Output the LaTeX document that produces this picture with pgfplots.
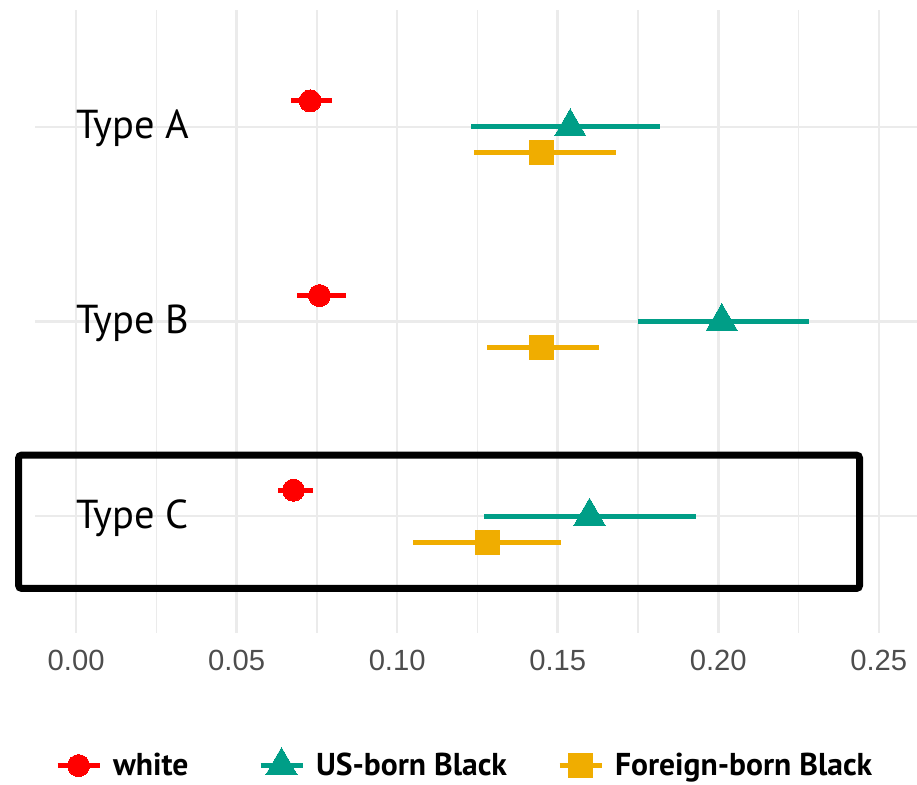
\documentclass[border=0pt]{standalone}
\usepackage{pgfplots}
\pgfplotsset{compat=1.18}
\usepackage{pgfplotstable}
\usepackage{fontspec}
\setmainfont{PT Sans}
\newfontfamily\lib{Liberation Sans}
\definecolor{cwhite}{HTML}{FF0000}
\definecolor{cus}{HTML}{009E87}
\definecolor{cfor}{HTML}{F0AD00}
\definecolor{gridc}{HTML}{EBEBEB}
\definecolor{tickc}{HTML}{4D4D4D}

\pgfplotstableread{
x y em ep
0.0729 3.1333 0.0060 0.0069
0.0758 2.1333 0.0070 0.0082
0.0677 1.1333 0.0049 0.0062
}\whitetab
\pgfplotstableread{
x y em ep
0.1539 3 0.0309 0.0280
0.2011 2 0.0261 0.0271
0.1599 1 0.0329 0.0331
}\ustab
\pgfplotstableread{
x y em ep
0.1451 2.8667 0.0212 0.0229
0.1451 1.8667 0.0172 0.0179
0.1280 0.8667 0.0231 0.0230
}\fortab

\begin{document}
\begin{tikzpicture}
\useasboundingbox (-17.5pt,-75.5pt) rectangle (441pt,316.5pt);
\begin{axis}[
  at={(0pt,0pt)}, anchor=south west,
  scale only axis, width=441pt, height=311.5pt,
  xmin=-0.0128, xmax=0.2619, ymin=0.4, ymax=3.6,
  clip=false,
  xtick={0,0.05,0.10,0.15,0.20,0.25},
  minor xtick={0.025,0.075,0.125,0.175,0.225},
  ytick={1,2,3}, yticklabels={},
  grid=both,
  major grid style={line width=1.25pt, gridc},
  minor grid style={line width=0.6pt, gridc},
  axis line style={draw=none},
  major tick length=0pt, minor tick length=0pt,
  scaled x ticks=false,
  xticklabel style={font=\fontsize{14.6}{14.6}\selectfont\lib, text=tickc, inner sep=0pt, yshift=-8.5pt,
    /pgf/number format/.cd, fixed, fixed zerofill, precision=2, assume math mode=true},
  legend columns=3,
  legend style={at={(0.0227,-0.2087)}, anchor=west, draw=none, fill=none,
    inner sep=0pt, outer sep=0pt, font=\fontsize{15.8}{15.8}\selectfont\bfseries,
    nodes={inner sep=0pt},
    /tikz/every odd column/.append style={column sep=5.5pt}},
  legend image code/.code={
    \draw[#1, mark=none, line width=2.5pt] (0pt,0pt) -- (21pt,0pt);
    \draw[#1, only marks] plot coordinates {(10.5pt,0pt)};
  },
]
\addplot[only marks, mark=*, mark size=5.5pt, color=cwhite,
  mark options={fill=cwhite, draw=cwhite, line width=0pt},
  error bars/x dir=both, error bars/x explicit, error bars/error mark=none,
  error bars/error bar style={line width=2.5pt, cwhite}]
  table[x=x, y=y, x error minus=em, x error plus=ep]{\whitetab};
\addlegendentry{\makebox[72.5pt][l]{white}}
\addplot[only marks, mark=triangle*, mark size=9pt, color=cus,
  mark options={fill=cus, draw=cus, line width=0pt},
  error bars/x dir=both, error bars/x explicit, error bars/error mark=none,
  error bars/error bar style={line width=2.5pt, cus}]
  table[x=x, y=y, x error minus=em, x error plus=ep]{\ustab};
\addlegendentry{\makebox[120.5pt][l]{US-born Black}}
\addplot[only marks, mark=square*, mark size=6pt, color=cfor,
  mark options={fill=cfor, draw=cfor, line width=0pt},
  error bars/x dir=both, error bars/x explicit, error bars/error mark=none,
  error bars/error bar style={line width=2.5pt, cfor}]
  table[x=x, y=y, x error minus=em, x error plus=ep]{\fortab};
\addlegendentry{Foreign-born Black}

\node[anchor=base west, inner sep=0pt, yshift=-6pt, font=\fontsize{20.2}{20.2}\selectfont] at (axis cs:0,3) {Type A};
\node[anchor=base west, inner sep=0pt, yshift=-6pt, font=\fontsize{20.2}{20.2}\selectfont] at (axis cs:0,2) {Type B};
\node[anchor=base west, inner sep=0pt, yshift=-6pt, font=\fontsize{20.2}{20.2}\selectfont] at (axis cs:0,1) {Type C};
\draw[line width=3.5pt, black, rounded corners=1.5pt] (axis cs:-0.0179,0.629) rectangle (axis cs:0.2440,1.3136);
\end{axis}
\end{tikzpicture}
\end{document}
